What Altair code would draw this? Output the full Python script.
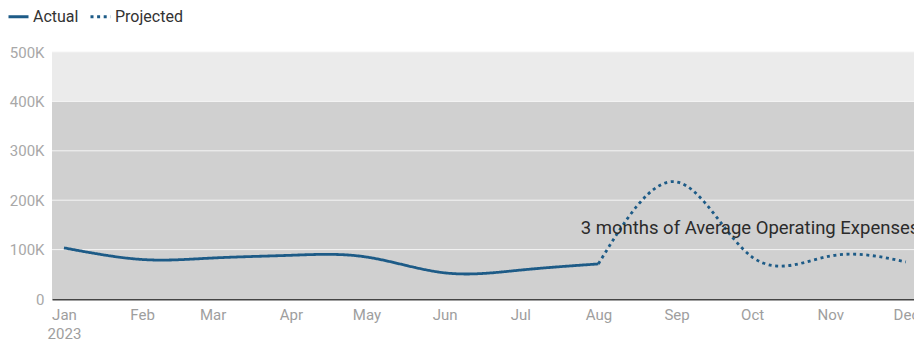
import altair as alt
import pandas as pd

# ---- data ----
actual_dates = ["2023-01-01", "2023-02-01", "2023-03-01", "2023-04-01",
                "2023-05-01", "2023-06-01", "2023-07-01", "2023-08-01"]
actual_values = [103500, 80000, 83000, 88500, 85000, 53000, 58500, 71000]

projected_dates = ["2023-08-01", "2023-09-01", "2023-10-01", "2023-11-01", "2023-12-01"]
projected_values = [71000, 237000, 85000, 87000, 75000]

series_names = ["Actual", "Projected"]

y_ticks = [0, 100000, 200000, 300000, 400000, 500000]
band_low = [0, 400000]
band_high = [400000, 500000]
band_colors = ["#d0d0d0", "#ebebeb"]

annotation_text = ["3 months of Average Operating Expenses"]
annotation_date = ["2023-07-25"]
annotation_value = [131500]

month_ticks = [alt.DateTime(year=2023, month=m, date=1, utc=True) for m in range(1, 13)]

LINE_COLOR = "#1d5b87"
FONT = "Roboto"

# ---- tables ----
lines_df = pd.DataFrame({
    "date": actual_dates + projected_dates,
    "value": actual_values + projected_values,
    "series": [series_names[0]] * len(actual_dates) + [series_names[1]] * len(projected_dates),
})
band_df = pd.DataFrame({"low": band_low, "high": band_high, "color": band_colors})
grid_df = pd.DataFrame({"tick": [t for t in y_ticks if t > 0]})
note_df = pd.DataFrame({"date": annotation_date, "value": annotation_value, "text": annotation_text})

x_scale = alt.Scale(
    type="utc",
    domain=[alt.DateTime(year=2022, month=12, date=27, hours=6, utc=True),
            alt.DateTime(year=2023, month=12, date=4, hours=5, utc=True)],
)
y_scale = alt.Scale(domain=[0, 500000], nice=False)

bands = alt.Chart(band_df).mark_rect().encode(
    x=alt.value(0),
    x2=alt.value("width"),
    y=alt.Y("low:Q", scale=y_scale,
            axis=alt.Axis(values=y_ticks, title=None, domain=False, ticks=False, grid=False,
                          labelExpr="datum.value == 0 ? '0' : format(datum.value / 1000, 'd') + 'K'",
                          labelColor="#a8a8a8", labelFontSize=15, labelPadding=8, labelFont=FONT)),
    y2="high:Q",
    fill=alt.Fill("color:N", scale=None, legend=None),
)

grid = alt.Chart(grid_df).mark_rule(color="#f4f4f4", strokeWidth=1).encode(
    x=alt.value(0),
    x2=alt.value("width"),
    y=alt.Y("tick:Q", scale=y_scale),
)

lines = alt.Chart(lines_df).mark_line(
    interpolate="natural", strokeWidth=2.8, color=LINE_COLOR
).encode(
    x=alt.X("date:T", scale=x_scale,
            axis=alt.Axis(values=month_ticks, title=None, grid=False, ticks=False,
                          domainColor="#444444", domainWidth=2,
                          labelExpr="utcFormat(datum.value, '%m') == '01' ? [utcFormat(datum.value, '%b'), utcFormat(datum.value, '%Y')] : utcFormat(datum.value, '%b')",
                          labelColor="#9e9e9e", labelFontSize=15, labelPadding=8,
                          labelLineHeight=19, labelFlush=False, labelOverlap=False,
                          labelFont=FONT)),
    y=alt.Y("value:Q", scale=y_scale),
    strokeDash=alt.StrokeDash(
        "series:N",
        scale=alt.Scale(domain=series_names, range=[[1, 0], [3, 3.6]]),
        legend=alt.Legend(orient="none", legendX=-45, legendY=-47, direction="horizontal",
                          title=None, symbolType="stroke", symbolSize=400,
                          symbolStrokeWidth=3, symbolStrokeColor=LINE_COLOR,
                          labelFontSize=16, labelColor="#333333", labelFont=FONT,
                          labelOffset=3, columnPadding=5, padding=0),
    ),
    detail="series:N",
)

note = alt.Chart(note_df).mark_text(
    align="left", baseline="alphabetic", fontSize=18.5, font=FONT, color="#2b2b2b"
).encode(
    x=alt.X("date:T", scale=x_scale),
    y=alt.Y("value:Q", scale=y_scale),
    text="text:N",
)

chart = alt.layer(bands, grid, lines, note).properties(
    width=862,
    height=247,
    padding={"left": 52, "top": 52, "right": 0, "bottom": 44},
    autosize=alt.AutoSizeParams(type="none"),
    background="white",
).configure_view(stroke=None).configure(font=FONT)

chart.save("out.html", embed_options={"renderer": "svg", "actions": False})
